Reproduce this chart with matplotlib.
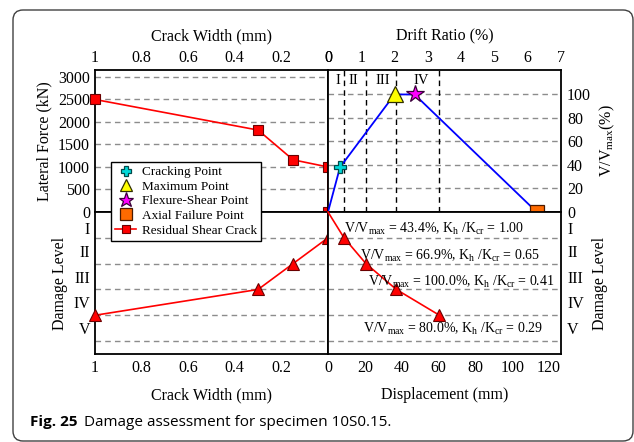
import matplotlib
matplotlib.use('Agg')
import matplotlib.pyplot as plt
from matplotlib.patches import FancyBboxPatch
from matplotlib.transforms import IdentityTransform

plt.rcParams['font.family'] = ['Liberation Serif', 'DejaVu Serif']
plt.rcParams['mathtext.fontset'] = 'custom'
plt.rcParams['mathtext.rm'] = 'Liberation Serif'
plt.rcParams['mathtext.it'] = 'Liberation Serif:italic'

# axis ticks
crack_ticks = [1, 0.8, 0.6, 0.4, 0.2, 0]
drift_ticks = [0, 1, 2, 3, 4, 5, 6, 7]
force_ticks = [0, 500, 1000, 1500, 2000, 2500, 3000]
ratio_ticks = [0, 20, 40, 60, 80, 100]
disp_ticks = [0, 20, 40, 60, 80, 100, 120]
damage_labels = ['I', 'II', 'III', 'IV', 'V']
damage_bounds = [1, 2, 3, 4, 5]

# residual shear crack vs lateral force
crack_force = [1.0, 0.3, 0.15, 0.0, 0.0]
residual_force = [2500, 1820, 1160, 1000, 0]

# residual crack width vs damage level
crack_level = [0.0, 0.0, 0.15, 0.3, 1.0]
level_left = [0, 1, 2, 3, 4]

# displacement vs damage level
disp_level = [0, 8.7, 20.6, 37.1, 60.5]
level_right = [0, 1, 2, 3, 4]

# envelope (drift ratio vs V/Vmax)
drift = [0, 0.36, 2.0, 2.6, 6.27]
v_ratio = [0, 38, 100, 100, 0]
point_names = ['Cracking Point', 'Maximum Point', 'Flexure-Shear Point', 'Axial Failure Point']

# damage stage limits in drift ratio
stage_drift = [0.48, 1.14, 2.05, 3.34]
stage_labels = ['I', 'II', 'III', 'IV']

note_ratio = ['43.4', '66.9', '100.0', '80.0']
note_k = ['1.00', '0.65', '0.41', '0.29']

W, H = 634, 442
fig = plt.figure(figsize=(W / 100, H / 100), dpi=100)


def box(x0, y0, x1, y1):
    return [x0 / W, 1 - y1 / H, (x1 - x0) / W, (y1 - y0) / H]


ax_tl = fig.add_axes(box(95, 70, 328, 212))
ax_tr = fig.add_axes(box(328, 70, 561, 212))
ax_bl = fig.add_axes(box(95, 212, 328, 354))
ax_br = fig.add_axes(box(328, 212, 561, 354))

grid_kw = dict(color='#8c8c8c', linestyle=(0, (4, 3)), linewidth=1.0)
fs = 11.5
level_pos = [0.63, 1.5, 2.5, 3.5, 4.5]

for ax in (ax_tl, ax_tr, ax_bl, ax_br):
    for sp in ax.spines.values():
        sp.set_linewidth(1.3)
        sp.set_color('black')
    ax.tick_params(which='both', length=0, labelsize=fs)

# top left: crack width vs lateral force
ax_tl.set_xlim(1, 0)
ax_tl.set_ylim(0, 3155)
ax_tl.set_xticks(crack_ticks, [f'{t:g}' for t in crack_ticks])
ax_tl.set_yticks(force_ticks)
ax_tl.xaxis.tick_top()
ax_tl.xaxis.set_label_position('top')
ax_tl.tick_params(axis='x', pad=3)
ax_tl.tick_params(axis='y', pad=3.5)
ax_tl.yaxis.grid(True, **grid_kw)
ax_tl.set_xlabel('Crack Width (mm)', fontsize=fs, labelpad=7)
ax_tl.set_ylabel('Lateral Force (kN)', fontsize=fs, labelpad=4)
ax_tl.plot(crack_force, residual_force, color='red', lw=1.2, marker='s', ms=7,
           mfc='red', mec='#6a0000', mew=0.8, clip_on=False, zorder=4,
           label='Residual Shear Crack')

# top right: drift ratio vs V/Vmax
ax_tr.set_xlim(0, 7)
ax_tr.set_ylim(0, 120.8)
ax_tr.set_xticks(drift_ticks)
ax_tr.set_yticks(ratio_ticks)
ax_tr.xaxis.tick_top()
ax_tr.xaxis.set_label_position('top')
ax_tr.yaxis.tick_right()
ax_tr.yaxis.set_label_position('right')
ax_tr.tick_params(axis='x', pad=3)
ax_tr.tick_params(axis='y', pad=4.3)
ax_tr.yaxis.grid(True, **grid_kw)
ax_tr.set_xlabel('Drift Ratio (%)', fontsize=fs, labelpad=7)
ax_tr.set_ylabel('V/V$_{\\rm max}$(%)', fontsize=fs, labelpad=5)
for d in stage_drift:
    ax_tr.axvline(d, color='black', linestyle=(0, (4, 3)), linewidth=1.0)
for lab, x in zip(stage_labels, [0.3, 0.76, 1.64, 2.8]):
    ax_tr.text(x, 112, lab, ha='center', va='center', fontsize=10.5)
ax_tr.plot(drift, v_ratio, color='blue', lw=1.3, zorder=3)
styles = [dict(marker='P', ms=9, mfc='#00d8d8', mec='#004a4a'),
          dict(marker='^', ms=11, mfc='#ffff00', mec='#303000'),
          dict(marker='*', ms=13, mfc='#ff00ff', mec='#3a003a'),
          dict(marker='s', ms=10, mfc='#ff6a00', mec='#4a1a00')]
handles = []
for i, (name, st) in enumerate(zip(point_names, styles)):
    h, = ax_tr.plot(drift[i + 1], v_ratio[i + 1], linestyle='none', mew=0.9,
                    clip_on=False, zorder=5, label=name, **st)
    handles.append(h)

# bottom left: crack width vs damage level
ax_bl.set_xlim(1, 0)
ax_bl.set_ylim(5.5, 0)
ax_bl.set_xticks(crack_ticks[:-1], [f'{t:g}' for t in crack_ticks[:-1]])
ax_bl.set_yticks(level_pos, damage_labels)
ax_bl.set_yticks(damage_bounds, minor=True)
ax_bl.yaxis.grid(True, which='minor', **grid_kw)
ax_bl.tick_params(axis='x', pad=4.5)
ax_bl.tick_params(axis='y', pad=3.5)
ax_bl.set_xlabel('Crack Width (mm)', fontsize=fs, labelpad=8)
ax_bl.set_ylabel('Damage Level', fontsize=fs, labelpad=4)
ax_bl.plot(crack_level, level_left, color='red', lw=1.2, marker='^', ms=9,
           markevery=[1, 2, 3, 4], mfc='red', mec='#6a0000', mew=0.8,
           clip_on=False, zorder=4)

# bottom right: displacement vs damage level
ax_br.set_xlim(0, 126.5)
ax_br.set_ylim(5.5, 0)
ax_br.set_xticks(disp_ticks)
ax_br.set_yticks(level_pos, damage_labels)
ax_br.set_yticks(damage_bounds, minor=True)
ax_br.yaxis.tick_right()
ax_br.yaxis.set_label_position('right')
ax_br.yaxis.grid(True, which='minor', **grid_kw)
ax_br.tick_params(axis='x', pad=4.5)
ax_br.tick_params(axis='y', pad=4.3)
ax_br.set_xlabel('Displacement (mm)', fontsize=fs, labelpad=8)
ax_br.set_ylabel('Damage Level', fontsize=fs, labelpad=6)
ax_br.plot(disp_level, level_right, color='red', lw=1.2, marker='^', ms=9,
           markevery=[1, 2, 3, 4], mfc='red', mec='#6a0000', mew=0.8,
           clip_on=False, zorder=4)
for r, k, x, y in zip(note_ratio, note_k, [8.7, 17.4, 21.7, 19.0], [0.66, 1.7, 2.71, 4.53]):
    ax_br.text(x, y, f'V/V$_{{\\rm max}}$ = {r}%, K$_{{\\rm h}}$ /K$_{{\\rm cr}}$ = {k}',
               fontsize=10, va='center', ha='left', zorder=6)

handles.append(ax_tl.get_lines()[0])
fig.legend(handles, [h.get_label() for h in handles], loc='upper left',
           bbox_to_anchor=(111 / W, 1 - 162 / H), fontsize=9.5, frameon=True,
           fancybox=False, edgecolor='black', framealpha=1, borderpad=0.3,
           labelspacing=0.18, handlelength=1.6, handletextpad=0.45,
           borderaxespad=0, markerscale=0.85)

# caption and frame
cap = fig.text(30 / W, 1 - 422 / H, 'Fig. 25', fontsize=11, fontweight='bold',
               family=['Open Sans', 'DejaVu Sans'], va='center')
ax_bl.annotate('Damage assessment for specimen 10S0.15.', xy=(1, 0.5), xycoords=cap,
               xytext=(5, 0), textcoords='offset points', va='center', fontsize=11,
               family=['Open Sans', 'DejaVu Sans'], annotation_clip=False)
frame = FancyBboxPatch((13, 1), 620, 431, boxstyle='round,pad=0,rounding_size=10',
                       transform=IdentityTransform(), fill=False, edgecolor='#404040',
                       linewidth=1.0)
fig.add_artist(frame)

fig.savefig('out.png', dpi=100)
